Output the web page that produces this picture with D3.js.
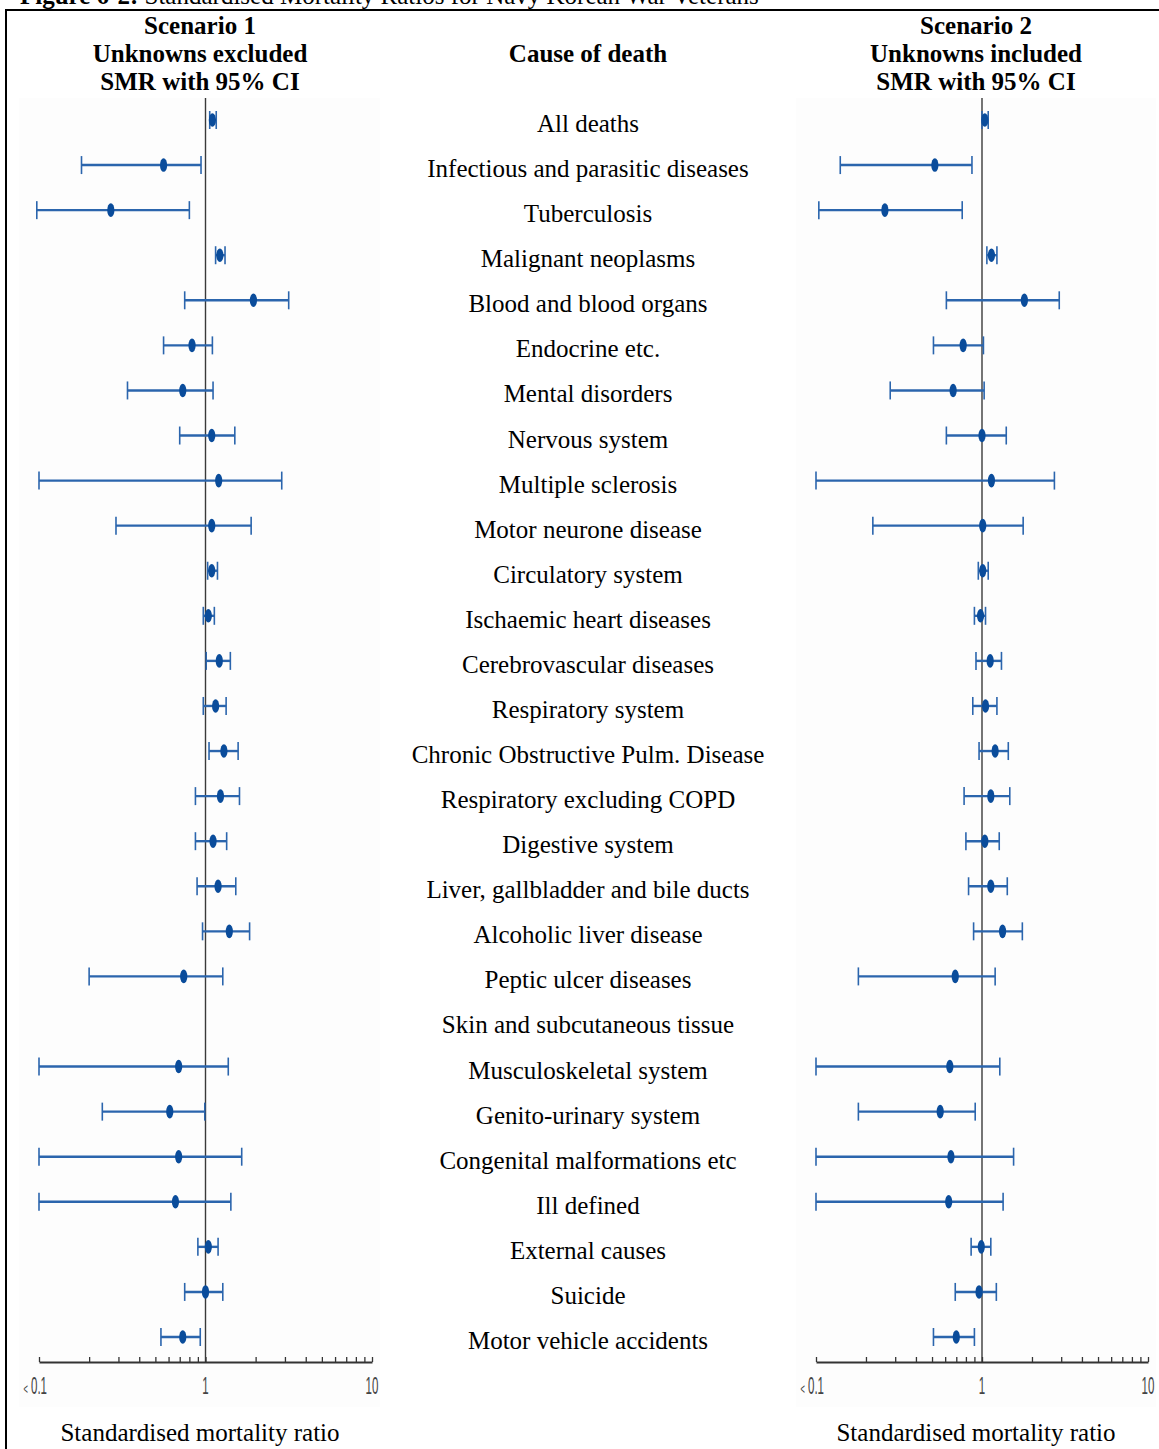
<!DOCTYPE html>
<html>
<head>
<meta charset="utf-8">
<script src="https://cdn.jsdelivr.net/npm/d3@7"></script>
<style>
  html, body { margin: 0; padding: 0; background: #fff; }
  svg { display: block; }
  .serif { font-family: "Liberation Serif", "Times New Roman", serif; fill: #000; }
</style>
</head>
<body>
<script>
// Causes of death, top to bottom
const causes = [
  "All deaths",
  "Infectious and parasitic diseases",
  "Tuberculosis",
  "Malignant neoplasms",
  "Blood and blood organs",
  "Endocrine etc.",
  "Mental disorders",
  "Nervous system",
  "Multiple sclerosis",
  "Motor neurone disease",
  "Circulatory system",
  "Ischaemic heart diseases",
  "Cerebrovascular diseases",
  "Respiratory system",
  "Chronic Obstructive Pulm. Disease",
  "Respiratory excluding COPD",
  "Digestive system",
  "Liver, gallbladder and bile ducts",
  "Alcoholic liver disease",
  "Peptic ulcer diseases",
  "Skin and subcutaneous tissue",
  "Musculoskeletal system",
  "Genito-urinary system",
  "Congenital malformations etc",
  "Ill defined",
  "External causes",
  "Suicide",
  "Motor vehicle accidents"
];

// Scenario 1: unknowns excluded (SMR, lower and upper 95% CI)
const s1Smr = [1.10, 0.56, 0.27, 1.22, 1.94, 0.83, 0.73, 1.09, 1.20, 1.09, 1.09, 1.04, 1.21, 1.15,
               1.29, 1.23, 1.11, 1.19, 1.39, 0.74, null, 0.69, 0.61, 0.69, 0.66, 1.04, 1.00, 0.73];
const s1Lo  = [1.06, 0.18, 0.097, 1.15, 0.75, 0.56, 0.34, 0.70, 0.10, 0.29, 1.03, 0.97, 1.01, 0.97,
               1.05, 0.87, 0.87, 0.89, 0.96, 0.20, null, 0.10, 0.24, 0.10, 0.10, 0.90, 0.75, 0.54];
const s1Hi  = [1.16, 0.94, 0.80, 1.31, 3.16, 1.10, 1.11, 1.50, 2.87, 1.88, 1.18, 1.13, 1.41, 1.33,
               1.57, 1.60, 1.34, 1.52, 1.84, 1.27, null, 1.37, 0.99, 1.65, 1.42, 1.19, 1.27, 0.93];

// Scenario 2: unknowns included
const s2Smr = [1.04, 0.52, 0.26, 1.14, 1.80, 0.77, 0.67, 1.00, 1.14, 1.01, 1.01, 0.98, 1.12, 1.05,
               1.20, 1.13, 1.04, 1.13, 1.33, 0.69, null, 0.64, 0.56, 0.65, 0.63, 0.99, 0.96, 0.70];
const s2Lo  = [1.00, 0.14, 0.104, 1.07, 0.61, 0.51, 0.28, 0.61, 0.10, 0.22, 0.95, 0.90, 0.92, 0.88,
               0.96, 0.78, 0.80, 0.83, 0.89, 0.18, null, 0.10, 0.18, 0.10, 0.10, 0.86, 0.69, 0.51];
const s2Hi  = [1.09, 0.87, 0.76, 1.23, 2.92, 1.02, 1.03, 1.40, 2.73, 1.77, 1.09, 1.05, 1.31, 1.23,
               1.44, 1.47, 1.27, 1.42, 1.75, 1.20, null, 1.28, 0.91, 1.55, 1.34, 1.13, 1.22, 0.90];

// Axis ticks (log scale)
const majorTicks = [0.1, 1, 10];
const majorLabels = ["< 0.1", "1", "10"];
const minorTicks = [0.2, 0.3, 0.4, 0.5, 0.6, 0.7, 0.8, 0.9, 2, 3, 4, 5, 6, 7, 8, 9];

const headerLeft = ["Scenario 1", "Unknowns excluded", "SMR with 95% CI"];
const headerRight = ["Scenario 2", "Unknowns included", "SMR with 95% CI"];
const headerMid = "Cause of death";
const axisTitle = "Standardised mortality ratio";

const W = 1159, H = 1449;
const lineColor = "#2b65ad";
const dotColor = "#0a4c9b";

const svg = d3.select("body").append("svg")
  .attr("width", W).attr("height", H)
  .attr("viewBox", `0 0 ${W} ${H}`);

// Figure caption (partly above the page edge)
const cap = svg.append("text").attr("class", "serif")
  .attr("x", 20).attr("y", 4).attr("font-size", 25);
cap.append("tspan").attr("font-weight", "bold").text("Figure 6-2:");
cap.append("tspan").text(" Standardised Mortality Ratios for Navy Korean War Veterans");

// Frame
svg.append("line").attr("x1", 5).attr("x2", W).attr("y1", 10).attr("y2", 10)
  .attr("stroke", "#000").attr("stroke-width", 2);
svg.append("line").attr("x1", 6).attr("x2", 6).attr("y1", 10).attr("y2", H)
  .attr("stroke", "#000").attr("stroke-width", 2);

const y = d3.scalePoint().domain(causes).range([120, 1337]);
const axisY = 1362;

const panels = [
  { x: d3.scaleLog().domain([0.1, 10]).range([39, 372]), bg: [19, 380],
    smr: s1Smr, lo: s1Lo, hi: s1Hi, header: headerLeft, cx: 200 },
  { x: d3.scaleLog().domain([0.1, 10]).range([816, 1148]), bg: [796, 1156],
    smr: s2Smr, lo: s2Lo, hi: s2Hi, header: headerRight, cx: 976 }
];

panels.forEach(p => {
  const g = svg.append("g");
  g.append("rect")
    .attr("x", p.bg[0]).attr("y", 98)
    .attr("width", p.bg[1] - p.bg[0]).attr("height", 1407 - 98)
    .attr("fill", "#fdfdfd");

  // Headers
  p.header.forEach((t, i) => {
    g.append("text").attr("class", "serif")
      .attr("x", p.cx).attr("y", 34 + i * 28)
      .attr("text-anchor", "middle").attr("font-size", 25).attr("font-weight", "bold")
      .text(t);
  });

  // Reference line at SMR = 1
  g.append("line")
    .attr("x1", p.x(1)).attr("x2", p.x(1))
    .attr("y1", 98).attr("y2", axisY)
    .attr("stroke", "#3a3a3a").attr("stroke-width", 1.4);

  // Axis with upward ticks
  const axis = d3.axisTop(p.x)
    .tickValues(majorTicks.concat(minorTicks))
    .tickSizeInner(5).tickSizeOuter(0)
    .tickFormat("");
  const ag = g.append("g").attr("transform", `translate(0,${axisY})`).call(axis);
  ag.select(".domain").attr("stroke", "#333").attr("stroke-width", 2);
  ag.selectAll(".tick line").attr("stroke", "#333").attr("stroke-width", 1.3);

  // Condensed tick labels
  majorTicks.forEach((v, i) => {
    const tx = g.append("g")
      .attr("transform", `translate(${p.x(v)},1394) scale(0.5,1)`);
    const t = tx.append("text")
      .attr("font-family", "Liberation Sans, Arial, sans-serif")
      .attr("font-size", 23).attr("fill", "#444")
      .attr("text-anchor", i === 0 ? "end" : "middle")
      .attr("dx", i === 0 ? 16 : 0);
    if (i === 0) {
      t.append("tspan").attr("font-size", 15).text("<");
      t.append("tspan").text(" 0.1");
    } else {
      t.text(majorLabels[i]);
    }
  });

  // Axis title
  g.append("text").attr("class", "serif")
    .attr("x", p.cx).attr("y", 1441)
    .attr("text-anchor", "middle").attr("font-size", 25)
    .text(axisTitle);

  // Confidence intervals and point estimates
  const rows = causes.map((c, i) => ({ c, smr: p.smr[i], lo: p.lo[i], hi: p.hi[i] }))
    .filter(d => d.smr != null);

  const eg = g.append("g");
  eg.selectAll("line.ci").data(rows).join("line").attr("class", "ci")
    .attr("x1", d => p.x(d.lo)).attr("x2", d => p.x(d.hi))
    .attr("y1", d => y(d.c)).attr("y2", d => y(d.c))
    .attr("stroke", lineColor).attr("stroke-width", 2.4);
  ["lo", "hi"].forEach(k => {
    eg.selectAll("line.cap-" + k).data(rows).join("line").attr("class", "cap-" + k)
      .attr("x1", d => p.x(d[k])).attr("x2", d => p.x(d[k]))
      .attr("y1", d => y(d.c) - 9).attr("y2", d => y(d.c) + 9)
      .attr("stroke", lineColor).attr("stroke-width", 1.6);
  });
  eg.selectAll("ellipse").data(rows).join("ellipse")
    .attr("cx", d => p.x(d.smr)).attr("cy", d => y(d.c))
    .attr("rx", 3.6).attr("ry", 6.8)
    .attr("fill", dotColor);
});

// Middle column
svg.append("text").attr("class", "serif")
  .attr("x", 588).attr("y", 62)
  .attr("text-anchor", "middle").attr("font-size", 25).attr("font-weight", "bold")
  .text(headerMid);

svg.append("g").selectAll("text").data(causes).join("text")
  .attr("class", "serif")
  .attr("x", 588).attr("y", d => y(d) + 12)
  .attr("text-anchor", "middle").attr("font-size", 25)
  .text(d => d);
</script>
</body>
</html>
